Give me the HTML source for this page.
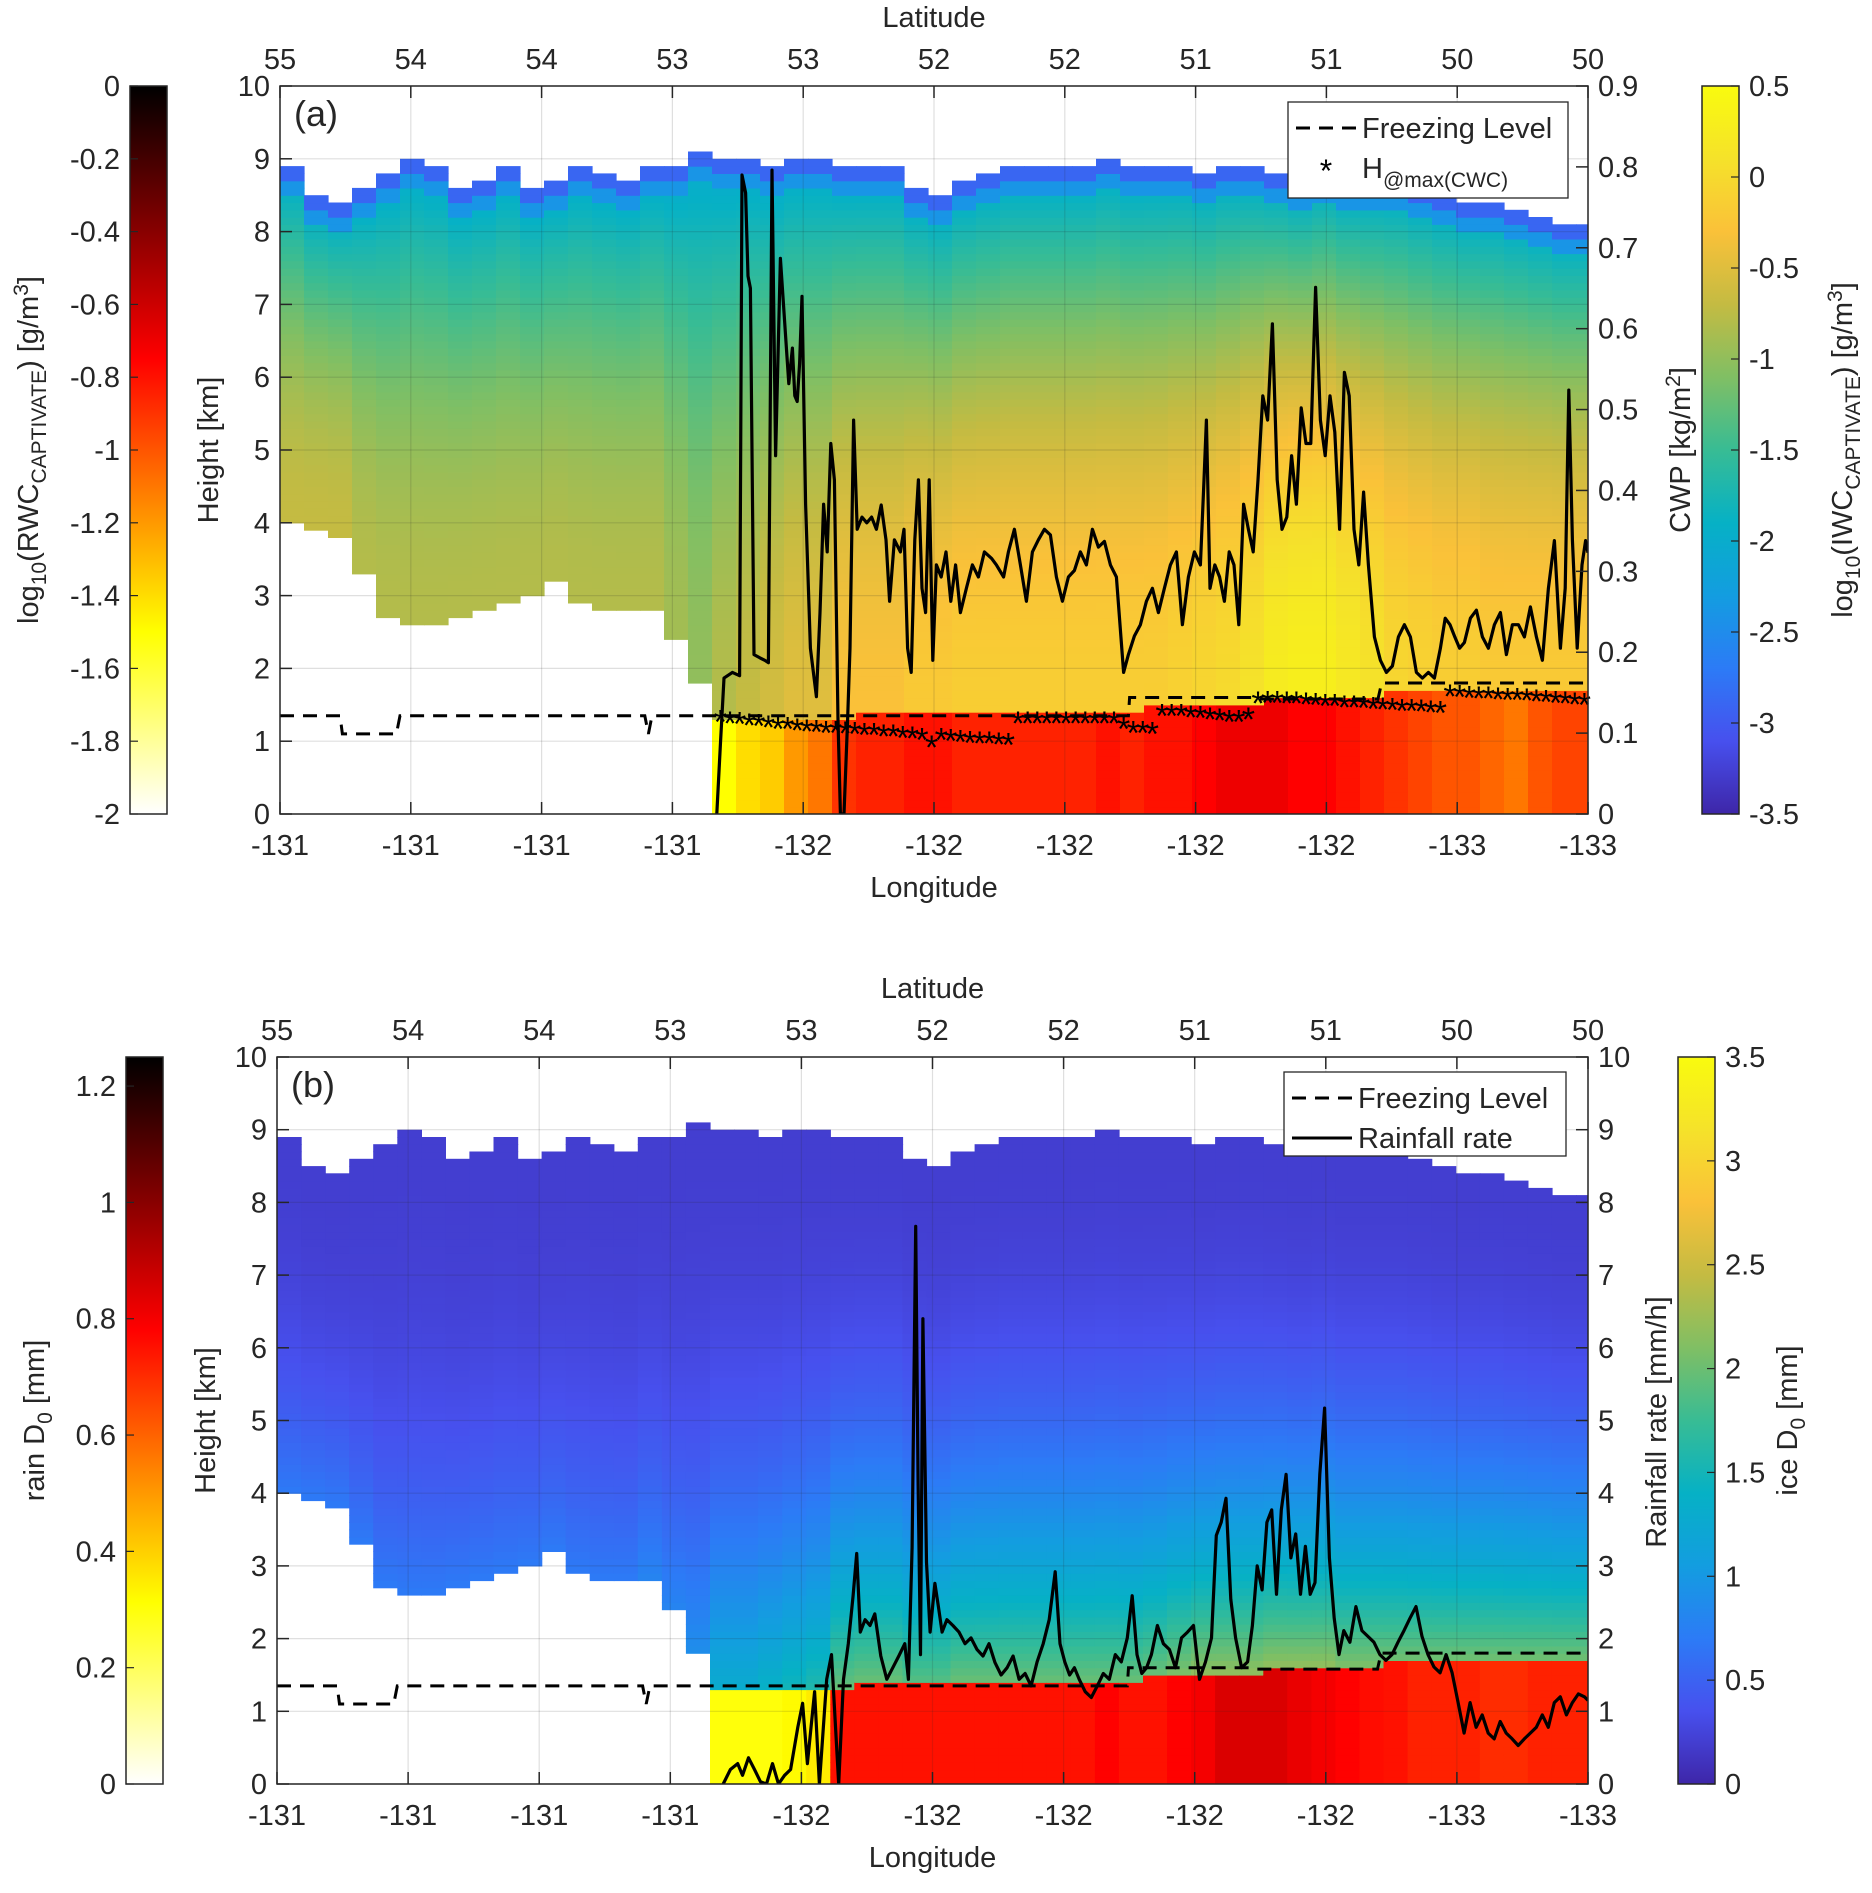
<!DOCTYPE html>
<html><head><meta charset="utf-8"><style>
body{margin:0;background:#fff}
svg text{font-family:"Liberation Sans",Arial,sans-serif;fill:#262626}
</style></head><body>
<svg id="fig" width="1872" height="1888" viewBox="0 0 1872 1888" xmlns="http://www.w3.org/2000/svg">
<defs>
<linearGradient id="hotR" x1="0" y1="1" x2="0" y2="0">
<stop offset="0" stop-color="#ffffff"/><stop offset="0.25" stop-color="#ffff00"/><stop offset="0.625" stop-color="#ff0000"/><stop offset="1" stop-color="#000000"/>
</linearGradient>
<linearGradient id="parula" x1="0" y1="1" x2="0" y2="0">
<stop offset="0" stop-color="#3E26A8"/><stop offset="0.1" stop-color="#4750EE"/><stop offset="0.2" stop-color="#2C7BF6"/><stop offset="0.3" stop-color="#139DE0"/><stop offset="0.4" stop-color="#06B1C5"/><stop offset="0.5" stop-color="#38BC94"/><stop offset="0.6" stop-color="#80BF64"/><stop offset="0.7" stop-color="#C4BB42"/><stop offset="0.8" stop-color="#FAC139"/><stop offset="0.9" stop-color="#F5E22A"/><stop offset="1" stop-color="#F9FB0E"/>
</linearGradient>
<clipPath id="clipA"><rect x="280" y="86" width="1308" height="728"/></clipPath>
<clipPath id="clipB"><rect x="277" y="1057" width="1311" height="727"/></clipPath>
</defs>
<g id="layer"></g>
</svg>
<script>
// ---- data ----
const colIdx = [10,30,50,70,90,110,130,150,170,190,210,230,250,270,290,310,330,350,370,390,410,430,450,470,490,510,530,550,570,590,610,630,650,670,690,710,730,750,770,790,810,830,850,870,890,910,930,950,970,990,1010,1030,1050,1070,1090];
const cloudTop = [8.9,8.5,8.4,8.6,8.8,9.0,8.9,8.6,8.7,8.9,8.6,8.7,8.9,8.8,8.7,8.9,8.9,9.1,9.0,9.0,8.9,9.0,9.0,8.9,8.9,8.9,8.6,8.5,8.7,8.8,8.9,8.9,8.9,8.9,9.0,8.9,8.9,8.9,8.8,8.9,8.9,8.8,8.7,8.8,8.7,8.7,8.7,8.6,8.5,8.4,8.4,8.3,8.2,8.1,8.1];
const iceBase = [4.0,3.9,3.8,3.3,2.7,2.6,2.6,2.7,2.8,2.9,3.0,3.2,2.9,2.8,2.8,2.8,2.4,1.8,1.3,1.3,1.3,1.3,1.3,1.3,1.4,1.4,1.4,1.4,1.4,1.4,1.4,1.4,1.4,1.4,1.4,1.4,1.5,1.5,1.5,1.5,1.5,1.6,1.6,1.6,1.6,1.6,1.75,1.75,1.75,1.75,1.75,1.75,1.75,1.75,1.75];
const iwcPeak = [-0.7,-0.7,-0.7,-0.8,-0.8,-0.8,-0.8,-0.8,-0.8,-0.8,-0.8,-0.8,-0.8,-0.8,-0.8,-0.8,-0.9,-1.0,-0.8,-0.7,-0.6,-0.5,-0.5,-0.3,-0.3,-0.3,-0.2,-0.2,-0.15,-0.15,-0.15,-0.15,-0.15,-0.15,-0.15,-0.15,-0.15,-0.1,-0.05,0.0,0.1,0.25,0.3,0.3,0.2,0.1,-0.05,-0.1,-0.15,-0.15,-0.2,-0.2,-0.2,-0.2,-0.2];
const rwcLog = [null,null,null,null,null,null,null,null,null,null,null,null,null,null,null,null,null,null,-1.5,-1.4,-1.35,-1.2,-1.1,-0.9,-0.85,-0.85,-0.8,-0.8,-0.85,-0.85,-0.85,-0.85,-0.85,-0.85,-0.8,-0.85,-0.8,-0.8,-0.75,-0.7,-0.7,-0.7,-0.75,-0.75,-0.8,-0.85,-0.9,-0.95,-1.0,-1.0,-1.05,-1.1,-1.0,-0.95,-0.95];
const iceD0Peak = [0.7,0.7,0.7,0.7,0.7,0.7,0.7,0.7,0.7,0.7,0.7,0.7,0.7,0.7,0.7,0.8,0.8,0.9,1.3,1.3,1.4,1.5,1.6,2.0,2.0,2.0,1.9,1.9,2.0,2.0,2.0,2.0,2.0,2.0,2.0,2.0,2.0,2.1,2.2,2.2,2.2,2.2,2.2,2.2,2.1,2.1,2.0,2.0,2.0,2.0,2.0,2.0,2.0,2.0,2.0];
const rainD0 = [null,null,null,null,null,null,null,null,null,null,null,null,null,null,null,null,null,null,0.3,0.3,0.3,0.32,0.35,0.75,0.75,0.75,0.75,0.75,0.75,0.75,0.75,0.75,0.75,0.75,0.78,0.75,0.75,0.78,0.8,0.85,0.85,0.85,0.82,0.8,0.78,0.76,0.75,0.72,0.72,0.72,0.7,0.7,0.72,0.72,0.72];
const cwpIdx = [364,367,370,377,383,385,388,390,392,395,400,404,407,410,413,417,422,424,427,429,431,433,435,438,442,447,450,453,456,459,462,465,467,470,473,475,478,481,485,489,493,497,501,505,508,512,517,520,523,526,529,532,535,538,541,544,547,551,555,559,563,567,572,577,582,587,593,597,603,607,612,617,622,627,632,637,642,647,652,657,662,667,672,677,682,687,692,697,703,707,712,717,722,727,732,737,742,747,752,757,762,767,770,772,775,779,783,787,791,795,799,803,807,811,815,819,823,827,831,835,839,843,847,851,855,859,863,867,871,875,879,883,887,891,895,899,903,907,912,917,922,927,932,937,942,947,952,957,962,967,971,975,979,983,987,992,997,1002,1007,1012,1017,1022,1027,1032,1037,1042,1047,1052,1057,1062,1067,1071,1074,1077,1081,1085,1088,1090];
const cwpVal = [0,0.086,0.168,0.175,0.171,0.79,0.768,0.665,0.65,0.197,0.193,0.19,0.187,0.796,0.443,0.687,0.576,0.532,0.576,0.517,0.51,0.557,0.64,0.383,0.205,0.145,0.249,0.383,0.324,0.458,0.413,0.116,0,0,0.116,0.205,0.487,0.352,0.367,0.36,0.367,0.352,0.382,0.339,0.263,0.339,0.324,0.352,0.205,0.175,0.339,0.413,0.279,0.249,0.413,0.19,0.308,0.293,0.324,0.263,0.308,0.249,0.279,0.308,0.293,0.324,0.316,0.308,0.293,0.324,0.352,0.308,0.263,0.324,0.339,0.352,0.345,0.293,0.263,0.293,0.301,0.324,0.308,0.352,0.33,0.337,0.308,0.293,0.175,0.197,0.22,0.234,0.263,0.279,0.249,0.279,0.308,0.324,0.234,0.293,0.324,0.308,0.413,0.487,0.279,0.308,0.293,0.263,0.324,0.308,0.234,0.383,0.352,0.324,0.413,0.517,0.487,0.606,0.413,0.352,0.367,0.443,0.383,0.502,0.458,0.458,0.651,0.487,0.443,0.517,0.472,0.352,0.546,0.517,0.352,0.308,0.398,0.308,0.219,0.19,0.175,0.183,0.219,0.234,0.219,0.175,0.168,0.175,0.168,0.205,0.242,0.234,0.219,0.205,0.212,0.242,0.252,0.219,0.205,0.234,0.249,0.197,0.234,0.234,0.219,0.256,0.219,0.19,0.279,0.338,0.205,0.279,0.524,0.339,0.205,0.308,0.338,0.323];
const rainIdx = [371,377,383,387,392,397,402,407,412,417,422,427,433,437,441,447,451,457,461,467,471,475,479,482,485,489,493,497,502,507,512,517,522,525,528,531,533,535,537,540,543,547,550,553,557,562,567,572,577,582,587,592,597,602,607,612,617,622,627,632,637,642,647,651,655,659,663,667,672,677,682,687,692,697,702,707,711,715,719,723,727,732,737,742,747,752,757,762,767,772,777,781,785,789,793,797,802,807,811,815,819,823,827,831,835,839,843,847,851,855,859,863,867,871,875,879,883,887,892,897,902,907,912,917,922,927,932,937,942,947,952,957,962,967,972,977,982,987,992,997,1002,1007,1012,1017,1022,1027,1032,1037,1042,1047,1052,1057,1062,1067,1072,1077,1082,1087,1090];
const rainVal = [0,0.2,0.28,0.12,0.36,0.2,0.03,0,0.28,0,0.12,0.2,0.78,1.11,0.28,1.27,0,1.44,1.78,0,1.44,1.93,2.59,3.17,2.09,2.26,2.18,2.34,1.76,1.44,1.6,1.76,1.93,1.44,3.25,7.67,4.13,1.78,6.4,3.05,2.09,2.76,2.43,2.09,2.26,2.18,2.09,1.93,2.01,1.85,1.76,1.93,1.67,1.5,1.6,1.76,1.44,1.52,1.35,1.68,1.93,2.26,2.92,1.93,1.68,1.5,1.6,1.44,1.27,1.19,1.35,1.52,1.44,1.78,1.68,2.01,2.59,1.78,1.52,1.6,1.78,2.18,1.93,1.85,1.6,2.01,2.09,2.18,1.44,1.68,2.01,3.42,3.6,3.93,2.54,2.01,1.6,1.68,2.18,3.0,2.67,3.6,3.77,2.61,3.77,4.26,3.11,3.44,2.61,3.27,2.61,2.77,4.26,5.17,3.11,2.28,1.78,2.11,1.95,2.44,2.11,2.03,1.95,1.78,1.7,1.78,1.95,2.11,2.28,2.44,2.03,1.78,1.61,1.53,1.78,1.53,1.12,0.7,1.12,0.78,0.95,0.7,0.62,0.86,0.7,0.62,0.53,0.62,0.7,0.78,0.95,0.78,1.12,1.2,0.95,1.12,1.24,1.2,1.15,1.2,1.12];
const starH = [1.3,1.28,1.27,1.25,1.24,1.22,1.2,1.2,1.18,1.17,1.16,1.15,1.15,1.14,1.13,1.12,1.12,1.1,1.1,1.08,1.07,1.05,0.95,1.05,1.04,1.02,1.01,1.0,1.0,0.99,0.98,1.28,1.28,1.28,1.28,1.28,1.28,1.28,1.28,1.28,1.28,1.28,1.2,1.15,1.15,1.13,1.38,1.38,1.38,1.36,1.35,1.33,1.32,1.3,1.3,1.33,1.55,1.56,1.56,1.55,1.55,1.54,1.53,1.52,1.52,1.5,1.5,1.49,1.48,1.47,1.46,1.45,1.45,1.44,1.43,1.42,1.65,1.64,1.63,1.62,1.62,1.61,1.6,1.6,1.59,1.58,1.57,1.56,1.55,1.54,1.53];
const fzIdx = [0,50,52,97,100,304,307,310,707,708,812,815,915,918,1090];
const fzH = [1.35,1.35,1.1,1.1,1.35,1.35,1.1,1.35,1.35,1.6,1.6,1.58,1.58,1.8,1.8];
const lonTicks = ["-131","-131","-131","-131","-132","-132","-132","-132","-132","-133","-133"];
const latTicks = ["55","54","54","53","53","52","52","51","51","50","50"];
const hTicks = [0,1,2,3,4,5,6,7,8,9,10];
const cwpTicks = ["0","0.1","0.2","0.3","0.4","0.5","0.6","0.7","0.8","0.9"];
const rrTicks = ["0","1","2","3","4","5","6","7","8","9","10"];
const rwcTicks = ["0","-0.2","-0.4","-0.6","-0.8","-1","-1.2","-1.4","-1.6","-1.8","-2"];
const iwcTicks = ["0.5","0","-0.5","-1","-1.5","-2","-2.5","-3","-3.5"];
const rainD0Ticks = ["0","0.2","0.4","0.6","0.8","1","1.2"];
const iceD0Ticks = ["0","0.5","1","1.5","2","2.5","3","3.5"];

// ---- helpers ----
const NS="http://www.w3.org/2000/svg";
const root=document.getElementById('layer');
function mk(tag,attrs,parent){const e=document.createElementNS(NS,tag);for(const k in attrs)e.setAttribute(k,attrs[k]);(parent||root).appendChild(e);return e;}
const PAR=[[62,38,168],[71,80,238],[44,123,246],[19,157,224],[6,177,197],[56,188,148],[128,191,100],[196,187,66],[250,193,57],[245,226,42],[249,251,14]];
function parula(t){t=Math.max(0,Math.min(1,t));const p=t*10,i=Math.min(9,Math.floor(p)),f=p-i;const a=PAR[i],b=PAR[i+1];return `rgb(${Math.round(a[0]+(b[0]-a[0])*f)},${Math.round(a[1]+(b[1]-a[1])*f)},${Math.round(a[2]+(b[2]-a[2])*f)})`;}
function hotR(t){const s=1-Math.max(0,Math.min(1,t));const r=Math.min(1,s/0.375),g=Math.max(0,Math.min(1,(s-0.375)/0.375)),b=Math.max(0,Math.min(1,(s-0.75)/0.25));return `rgb(${Math.round(r*255)},${Math.round(g*255)},${Math.round(b*255)})`;}

function panel(P){
  const g=mk('g',{});
  
  
  const xs=i=>P.L+i/1090*(P.R-P.L);
  const ys=h=>P.B-h/10*(P.B-P.T);
  const y2=v=>P.B-v/P.rmax*(P.B-P.T);
  const hm=mk('g',{'clip-path':`url(#${P.clip})`},g);
  
  
  const dh=0.1;
  for(let c=0;c<colIdx.length;c++){
    const x0=xs(colIdx[c]-10), x1=xs(colIdx[c]+10);
    const top=cloudTop[c], base=iceBase[c];
    for(let h=0;h<top-1e-6;h+=dh){
      const hm2=h+dh/2;let col=null;
      if(hm2>=base){const t=(hm2-base)/(top-base);col=P.iceColor(c,t,top-hm2);}
      else if(P.rain[c]!==null){col=P.rainColor(P.rain[c],hm2);}
      if(col){mk('rect',{x:x0.toFixed(1),y:ys(h+dh).toFixed(1),width:(x1-x0+0.6).toFixed(1),height:(ys(h)-ys(h+dh)+0.6).toFixed(1),fill:col},hm);}
    }
  }
  for(let k=0;k<11;k++){const x=P.L+k*(P.R-P.L)/10;mk('line',{x1:x,y1:P.T,x2:x,y2:P.B,stroke:'rgba(38,38,38,0.15)','stroke-width':1.2},g);}
  hTicks.forEach(h=>{mk('line',{x1:P.L,y1:ys(h),x2:P.R,y2:ys(h),stroke:'rgba(38,38,38,0.15)','stroke-width':1.2},g);});
  let d='';fzIdx.forEach((v,i)=>{d+=(i?'L':'M')+xs(v).toFixed(1)+' '+ys(fzH[i]).toFixed(1);});
  const fz=mk('path',{d:d,fill:'none',stroke:'#000','stroke-width':3,'stroke-dasharray':'14,9'},g);
  
  
  let d2='';P.lx.forEach((v,i)=>{d2+=(i?'L':'M')+xs(v).toFixed(1)+' '+y2(P.ly[i]).toFixed(1);});
  const ln=mk('path',{d:d2,fill:'none',stroke:'#000','stroke-width':3.2,'stroke-linejoin':'round','clip-path':`url(#${P.clip})`},g);
  
  
  if(P.stars){
    starH.forEach((h,i)=>{const x=xs(367+8*i),y=ys(h);
      const s=mk('text',{x:x,y:y+14,'font-size':34,'text-anchor':'middle',style:'fill:#000'},g);s.textContent='*';
      
      });
  }
  mk('rect',{x:P.L,y:P.T,width:P.R-P.L,height:P.B-P.T,fill:'none',stroke:'#262626','stroke-width':1.5},g);
  for(let k=0;k<11;k++){const x=P.L+k*(P.R-P.L)/10;
    mk('line',{x1:x,y1:P.B,x2:x,y2:P.B-12,stroke:'#262626','stroke-width':1.5},g);
    mk('line',{x1:x,y1:P.T,x2:x,y2:P.T+12,stroke:'#262626','stroke-width':1.5},g);
    const t=mk('text',{x:x,y:P.B+41,'font-size':29,'text-anchor':'middle'},g);t.textContent=lonTicks[k];
    const t2=mk('text',{x:x,y:P.T-17,'font-size':29,'text-anchor':'middle'},g);t2.textContent=latTicks[k];}
  hTicks.forEach(h=>{mk('line',{x1:P.L,y1:ys(h),x2:P.L+12,y2:ys(h),stroke:'#262626','stroke-width':1.5},g);
    const t=mk('text',{x:P.L-10,y:ys(h)+10,'font-size':29,'text-anchor':'end'},g);t.textContent=String(h);});
  P.rTicks.forEach((s,i)=>{const y=y2(i*P.rstep);mk('line',{x1:P.R,y1:y,x2:P.R-12,y2:y,stroke:'#262626','stroke-width':1.5},g);
    const t=mk('text',{x:P.R+10,y:y+10,'font-size':29},g);t.textContent=s;});
  const lx=mk('text',{x:(P.L+P.R)/2,y:P.B+83,'font-size':29,'text-anchor':'middle'},g);lx.textContent='Longitude';
  
  const lt=mk('text',{x:(P.L+P.R)/2,y:P.T-59,'font-size':29,'text-anchor':'middle'},g);lt.textContent='Latitude';
  
  const ly=mk('text',{x:0,y:0,'font-size':29,'text-anchor':'middle',transform:`translate(${P.L-62},${(P.T+P.B)/2}) rotate(-90)`},g);ly.textContent='Height [km]';
  
  const pl=mk('text',{x:P.L+14,y:P.T+40,'font-size':36},g);pl.textContent=P.tag;
  
  return g;
}

panel({name:'panel-a',clip:'clipA',L:280,R:1588,T:86,B:814,rmax:0.9,rstep:0.1,rTicks:cwpTicks,tag:'(a)',
  lx:cwpIdx,ly:cwpVal,lineName:'cwp-line',stars:true,rain:rwcLog,
  iceColor:(c,t,dTop)=>{let v=iwcPeak[c]+(-2.1-iwcPeak[c])*Math.pow(t,2);if(dTop<0.2)v=-2.9;else if(dTop<0.4)v=Math.min(v,-2.4);return parula((v+3.5)/4);},
  rainColor:(v,h)=>hotR((v+2)/2)});
panel({name:'panel-b',clip:'clipB',L:277,R:1588,T:1057,B:1784,rmax:10,rstep:1,rTicks:rrTicks,tag:'(b)',
  lx:rainIdx,ly:rainVal,lineName:'rainfall-rate-line',stars:false,rain:rainD0,
  iceColor:(c,t,dTop)=>{const v=0.2+(iceD0Peak[c]-0.2)*Math.pow(1-t,2.5);return parula(v/3.5);},
  rainColor:(v,h)=>hotR(v/1.25)});

function cbar(name,x,T,B,grad,ticks,vmin,vmax,vals,side,label,labelX){
  const g=mk('g',{});
  
  
  mk('rect',{x:x,y:T,width:37,height:B-T,fill:`url(#${grad})`,stroke:'#262626','stroke-width':1.5},g);
  ticks.forEach((s,i)=>{const v=vals[i];const y=B-(v-vmin)/(vmax-vmin)*(B-T);
    mk('line',{x1:side==='left'?x:x+37,y1:y,x2:side==='left'?x+8:x+29,y2:y,stroke:'#262626','stroke-width':1.2},g);
    const t=mk('text',{x:side==='left'?x-10:x+47,y:y+10,'font-size':29,'text-anchor':side==='left'?'end':'start'},g);t.textContent=s;});
  const l=mk('text',{x:0,y:0,'font-size':29,'text-anchor':'middle',transform:`translate(${labelX},${(T+B)/2}) rotate(-90)`},g);
  l.innerHTML=label;
  
  
}
cbar('rwc-colorbar',130,86,814,'hotR',rwcTicks,-2,0,[0,-0.2,-0.4,-0.6,-0.8,-1,-1.2,-1.4,-1.6,-1.8,-2],'left','log<tspan font-size="21" dy="8">10</tspan><tspan dy="-8">(RWC</tspan><tspan font-size="21" dy="8">CAPTIVATE</tspan><tspan dy="-8">) [g/m</tspan><tspan font-size="21" dy="-10">3</tspan><tspan dy="10">]</tspan>',38);
cbar('iwc-colorbar',1702,86,814,'parula',iwcTicks,-3.5,0.5,[0.5,0,-0.5,-1,-1.5,-2,-2.5,-3,-3.5],'right','log<tspan font-size="21" dy="8">10</tspan><tspan dy="-8">(IWC</tspan><tspan font-size="21" dy="8">CAPTIVATE</tspan><tspan dy="-8">) [g/m</tspan><tspan font-size="21" dy="-10">3</tspan><tspan dy="10">]</tspan>',1852);
cbar('rain-d0-colorbar',126,1057,1784,'hotR',rainD0Ticks,0,1.25,[0,0.2,0.4,0.6,0.8,1,1.2],'left','rain D<tspan font-size="21" dy="8">0</tspan><tspan dy="-8"> [mm]</tspan>',44);
cbar('ice-d0-colorbar',1678,1057,1784,'parula',iceD0Ticks,0,3.5,[0,0.5,1,1.5,2,2.5,3,3.5],'right','ice D<tspan font-size="21" dy="8">0</tspan><tspan dy="-8"> [mm]</tspan>',1797);

const ra=mk('text',{x:0,y:0,'font-size':29,'text-anchor':'middle',transform:'translate(1690,450) rotate(-90)'});
ra.innerHTML='CWP [kg/m<tspan font-size="21" dy="-10">2</tspan><tspan dy="10">]</tspan>';


const rb=mk('text',{x:0,y:0,'font-size':29,'text-anchor':'middle',transform:'translate(1666,1422) rotate(-90)'});
rb.textContent='Rainfall rate [mm/h]';



function legend(name,x,y,w,h,items){
  const g=mk('g',{});
  
  
  mk('rect',{x:x,y:y,width:w,height:h,fill:'#fff',stroke:'#262626','stroke-width':1.3},g);
  items.forEach((it,i)=>{const cy=y+26+i*40;
    if(it.type==='dash')mk('line',{x1:x+8,y1:cy,x2:x+68,y2:cy,stroke:'#000','stroke-width':3,'stroke-dasharray':'14,9'},g);
    if(it.type==='solid')mk('line',{x1:x+8,y1:cy,x2:x+68,y2:cy,stroke:'#000','stroke-width':3},g);
    if(it.type==='star'){const s=mk('text',{x:x+38,y:cy+14,'font-size':32,'text-anchor':'middle',style:'fill:#000'},g);s.textContent='*';}
    const t=mk('text',{x:x+74,y:cy+10,'font-size':29},g);t.innerHTML=it.label;
    
    });
}
legend('legend-a',1288,102,280,96,[{type:'dash',label:'Freezing Level'},{type:'star',label:'H<tspan font-size="21" dy="9">@max(CWC)</tspan>'}]);
legend('legend-b',1284,1072,282,84,[{type:'dash',label:'Freezing Level'},{type:'solid',label:'Rainfall rate'}]);
</script>
</body></html>
